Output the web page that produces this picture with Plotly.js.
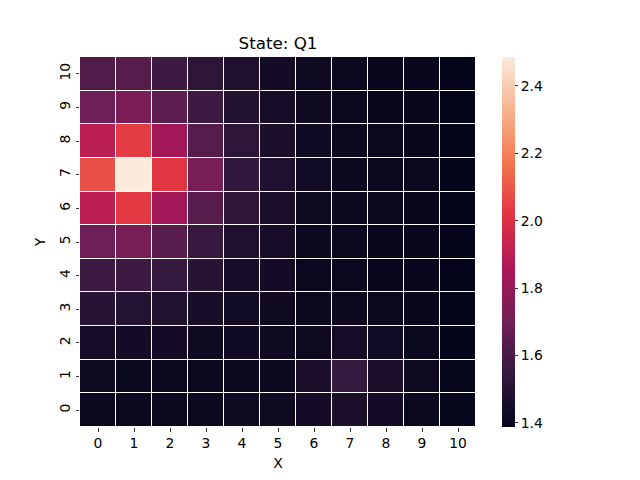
<!DOCTYPE html>
<html>
<head>
<meta charset="utf-8">
<script src="https://cdn.plot.ly/plotly-3.0.1.min.js"></script>
<style>html,body{margin:0;padding:0;background:#fff;}</style>
</head>
<body>
<div id="chart" style="width:640px;height:480px;"></div>
<script>
const xCats = [0,1,2,3,4,5,6,7,8,9,10];
const yCats = [0,1,2,3,4,5,6,7,8,9,10];
// rows from Y=0 (bottom) to Y=10 (top); columns X=0..10
const row0  = [1.410,1.410,1.410,1.410,1.425,1.425,1.440,1.465,1.440,1.410,1.398];
const row1  = [1.425,1.410,1.410,1.410,1.420,1.420,1.460,1.545,1.460,1.425,1.398];
const row2  = [1.445,1.440,1.440,1.425,1.430,1.425,1.425,1.450,1.435,1.410,1.395];
const row3  = [1.500,1.495,1.480,1.455,1.435,1.425,1.415,1.415,1.410,1.405,1.395];
const row4  = [1.565,1.570,1.545,1.500,1.450,1.440,1.410,1.410,1.405,1.405,1.395];
const row5  = [1.700,1.720,1.640,1.550,1.475,1.450,1.420,1.410,1.405,1.405,1.395];
const row6  = [1.900,2.030,1.830,1.635,1.520,1.460,1.425,1.415,1.410,1.405,1.395];
const row7  = [2.080,2.486,2.020,1.720,1.540,1.478,1.435,1.415,1.410,1.410,1.395];
const row8  = [1.900,2.035,1.830,1.630,1.520,1.465,1.430,1.415,1.410,1.405,1.395];
const row9  = [1.700,1.730,1.650,1.565,1.490,1.450,1.425,1.410,1.405,1.405,1.395];
const row10 = [1.620,1.630,1.565,1.520,1.475,1.440,1.425,1.410,1.405,1.405,1.395];
const zValues = [row0,row1,row2,row3,row4,row5,row6,row7,row8,row9,row10];
const colorTicks = [1.4,1.6,1.8,2.0,2.2,2.4];

const rocket = [
  [0.0,   'rgb(3,5,26)'],
  [0.143, 'rgb(53,25,62)'],
  [0.286, 'rgb(112,31,87)'],
  [0.429, 'rgb(173,23,89)'],
  [0.571, 'rgb(225,51,66)'],
  [0.714, 'rgb(243,118,81)'],
  [0.857, 'rgb(246,180,143)'],
  [1.0,   'rgb(250,235,221)']
];

const font = {family: 'DejaVu Sans', size: 13.9, color: '#000'};

Plotly.newPlot('chart', [{
  type: 'heatmap',
  x: xCats, y: yCats, z: zValues,
  colorscale: rocket,
  zmin: 1.388, zmax: 2.486,
  xgap: 1, ygap: 1,
  hoverinfo: 'none',
  colorbar: {
    x: 1.0657, xanchor: 'left', xref: 'paper',
    y: 0.5, yanchor: 'middle', len: 1, lenmode: 'fraction',
    thickness: 13, thicknessmode: 'pixels',
    outlinewidth: 0,
    tickvals: colorTicks, ticktext: colorTicks.map(v => v.toFixed(1)),
    ticks: 'outside', ticklen: 3.5, tickwidth: 0.8, tickcolor: '#000',
    tickfont: font, xpad: 0, ypad: 0
  }
}], {
  width: 640, height: 480,
  margin: {l: 80, r: 164, t: 57, b: 53, pad: 0},
  paper_bgcolor: '#fff', plot_bgcolor: '#fff',
  title: {text: 'State: Q1', font: {family: 'DejaVu Sans', size: 16.7, color: '#000'},
          x: 0.5, xref: 'paper', xanchor: 'center', y: 1 - 43/480, yanchor: 'middle'},
  xaxis: {
    tickvals: xCats, ticktext: xCats.map(String),
    ticks: 'outside', ticklen: 3.5, tickwidth: 0.8, tickcolor: '#000',
    showgrid: false, zeroline: false, showline: false,
    tickfont: font, range: [-0.5, 10.5],
    title: {text: 'X', font: font, standoff: 8}
  },
  yaxis: {
    tickvals: yCats, ticktext: yCats.map(String),
    ticks: 'outside', ticklen: 3.5, tickwidth: 0.8, tickcolor: '#000',
    showgrid: false, zeroline: false, showline: false,
    tickfont: font, tickangle: -90, range: [-0.5, 10.5],
    title: {text: 'Y', font: font, standoff: 8}
  }
}, {displayModeBar: false, staticPlot: true});
</script>
</body>
</html>
